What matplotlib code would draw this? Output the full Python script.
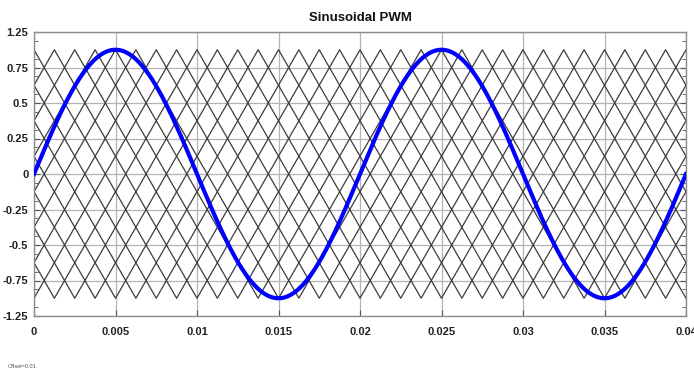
import matplotlib
matplotlib.use("Agg")
import matplotlib.pyplot as plt
import numpy as np

# --- signal settings ---
t_end = 0.04            # s, x range
ref_freq = 50           # Hz, modulating sine
ref_amp = 0.875         # peak of the blue sine
carrier_freq = 800      # Hz, triangle carriers
carrier_top = 0.875     # carriers fill -0.875 .. 0.875
carrier_step = 0.125    # height of one level-shifted carrier
n_carriers = 14

# axis ticks (the scope labels the outer gridlines 1.25 / -1.25)
x_ticks = [0, 0.005, 0.01, 0.015, 0.02, 0.025, 0.03, 0.035, 0.04]
x_labels = ['0', '0.005', '0.01', '0.015', '0.02', '0.025', '0.03', '0.035', '0.04']
y_ticks = [-1, -0.75, -0.5, -0.25, 0, 0.25, 0.5, 0.75, 1]
y_labels = ['-1.25', '-0.75', '-0.5', '-0.25', '0', '0.25', '0.5', '0.75', '1.25']

plt.rcParams['font.family'] = ['Liberation Sans', 'DejaVu Sans']

fig = plt.figure(figsize=(6.94, 3.70), dpi=100)
ax = fig.add_axes([34 / 694, 1 - 316 / 370, 652 / 694, 284 / 370])

# --- carriers (level shifted, alternate phase) ---
half = 0.5 / carrier_freq
t_vert = np.arange(0, t_end + half / 2, half)
for k in range(n_carriers):
    hi = carrier_top - k * carrier_step
    lo = hi - carrier_step
    if k % 2 == 0:
        vals = np.where(np.arange(len(t_vert)) % 2 == 0, hi, lo)
    else:
        vals = np.where(np.arange(len(t_vert)) % 2 == 0, lo, hi)
    ax.plot(t_vert, vals, color='#3c3c3c', lw=0.9, zorder=2)

# --- reference sine ---
t = np.linspace(0, t_end, 3000)
ax.plot(t, ref_amp * np.sin(2 * np.pi * ref_freq * t), color='#0000ff', lw=3.0, zorder=3)

ax.set_xlim(0, t_end)
ax.set_ylim(-1, 1)
ax.set_xticks(x_ticks)
ax.set_xticklabels(x_labels)
ax.set_yticks(y_ticks)
ax.set_yticklabels(y_labels)
ax.set_yticks(np.arange(-0.9375, 1, 0.125), minor=True)

ax.grid(True, which='major', color='#b4b4b4', lw=0.9, zorder=1)
ax.set_axisbelow(True)
for s in ax.spines.values():
    s.set_color('#8c8c8c')
    s.set_linewidth(1.0)

ax.tick_params(which='both', direction='in', right=True, color='#555555')
ax.tick_params(which='major', length=4, labelsize=8, labelcolor='#222222')
ax.tick_params(which='minor', length=3)
ax.tick_params(axis='x', pad=8)
ax.tick_params(axis='y', pad=4)
for lab in ax.get_xticklabels() + ax.get_yticklabels():
    lab.set_fontweight('bold')

ax.set_title('Sinusoidal PWM', fontsize=9.5, fontweight='bold', color='#111111', pad=8)

fig.text(8 / 694, 1 - 366 / 370, 'Offset=0.01', fontsize=4, color='#555555', va='center')

fig.savefig('out.png', dpi=100)
